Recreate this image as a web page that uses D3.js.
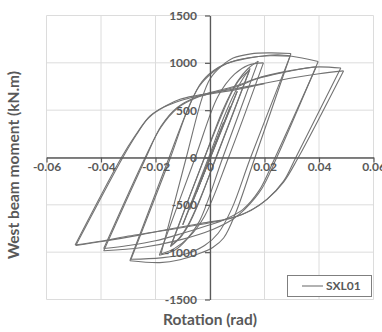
<!DOCTYPE html>
<html>
<head>
<meta charset="utf-8">
<script src="https://cdn.jsdelivr.net/npm/d3@7"></script>
<style>
  html, body { margin: 0; padding: 0; background: #fff; }
  svg { display: block; }
  text { font-family: Lato, "Open Sans", sans-serif; }
</style>
</head>
<body>
<svg id="chart" width="382" height="332"></svg>
<script>
// ---- data (rotation rad, moment kN.m) ----
const xTicks = [-0.06, -0.04, -0.02, 0, 0.02, 0.04, 0.06];
const yTicks = [-1500, -1000, -500, 0, 500, 1000, 1500];
const seriesName = "SXL01";

const smallCycles = [[0,0],[0.004,290],[-0.004,-290],[0.005,370],[-0.005,-370],[0.0075,540],[-0.0075,-550],[0.01,700],[-0.01,-710]];
const cycles015 = [[-0.0005,0],[0.005,420],[0.009,680],[0.012,830],[0.0147,940],
  [0.0022,0],[-0.004,-470],[-0.008,-720],[-0.011,-850],[-0.0145,-940],
  [-0.002,0],[0.004,430],[0.008,690],[0.011,830],[0.0145,920],
  [0.0023,0],[-0.004,-460],[-0.008,-710],[-0.011,-840],[-0.0142,-925]];
const cycles02 = [[-0.002,0],[0.005,520],[0.01,800],[0.014,940],[0.0177,1018],
  [0.0047,0],[-0.004,-680],[-0.009,-880],[-0.013,-980],[-0.0186,-1033],
  [-0.0054,0],[0.003,650],[0.009,880],[0.014,975],[0.0196,1000],
  [0.0068,0],[-0.002,-620],[-0.008,-850],[-0.013,-960],[-0.018,-1020]];
const cycles03 = [[-0.0087,0],[-0.003,620],[0,830],[0.004,960],[0.0085,1050],[0.015,1095],[0.022,1105],[0.0297,1099],
  [0.0165,0],[0.0095,-580],[0.005,-850],[0.001,-950],[-0.0037,-1012],[-0.011,-1080],[-0.0184,-1110],[-0.0294,-1090],
  [-0.015,0],[-0.009,450],[-0.004,750],[0.001,900],[0.006,990],[0.014,1050],[0.022,1075],[0.0294,1071],
  [0.0149,0],[0.008,-540],[0.003,-800],[-0.002,-930],[-0.009,-1020],[-0.018,-1060],[-0.029,-1075]];
const cycles04 = [[-0.0145,0],[-0.008,520],[-0.003,800],[0.003,950],[0.01,1030],[0.02,1075],[0.025,1085],[0.03,1070],[0.0397,1015],
  [0.0245,0],[0.019,-330],[0.013,-540],[0.0085,-650],[0.001,-760],[-0.011,-870],[-0.025,-950],[-0.039,-985],
  [-0.0235,0],[-0.018,330],[-0.012,530],[-0.005,640],[0.002,700],[0.01,760],[0.017,835],[0.028,910],[0.039,958],
  [0.0239,0],[0.018,-350],[0.012,-550],[0.005,-660],[0,-710],[-0.01,-800],[-0.02,-880],[-0.03,-930],[-0.039,-962]];
const cycles05 = [[-0.0238,0],[-0.018,320],[-0.012,520],[-0.005,630],[0.002,690],[0.01,750],[0.017,830],[0.028,905],[0.038,955],[0.048,945],
  [0.0315,0],[0.027,-250],[0.021,-440],[0.015,-560],[0.008,-640],[0,-680],[-0.0147,-755],[-0.026,-820],[-0.039,-885],[-0.0492,-928],
  [-0.032,0],[-0.027,240],[-0.022,440],[-0.016,550],[-0.011,615],[-0.005,655],[0,680],[0.01,730],[0.021,790],[0.03,840],[0.04,885],[0.049,915],
  [0.0324,0],[0.027,-260],[0.021,-440],[0.016,-540],[0.011,-610],[0.005,-660],[0,-690],[-0.01,-740],[-0.021,-790],[-0.03,-830],[-0.039,-880],[-0.0495,-925],
  [-0.0325,0],[-0.0275,230],[-0.0225,420],[-0.017,530],[-0.011,600],[-0.005,645],[0,670],[0.01,720],[0.02,780]];

const path = [].concat(smallCycles, cycles015, cycles02, cycles03, cycles04, cycles05);

// split the loading path into half-cycles at each reversal (peak), so peaks stay sharp
const halfCycles = [];
let seg = [path[0]];
for (let i = 1; i < path.length; i++) {
  seg.push(path[i]);
  if (i < path.length - 1) {
    const d1 = path[i][0] - path[i - 1][0];
    const d2 = path[i + 1][0] - path[i][0];
    if (d1 * d2 < 0) { halfCycles.push(seg); seg = [path[i]]; }
  }
}
halfCycles.push(seg);

// ---- layout ----
const svg = d3.select("#chart");
const x = d3.scaleLinear().domain([-0.06, 0.06]).range([46.5, 373.5]);
const y = d3.scaleLinear().domain([-1500, 1500]).range([299.5, 15.5]);
const textColor = "#595959";

// gridlines
const grid = svg.append("g");
grid.selectAll("line.v").data(xTicks).join("line")
  .attr("x1", d => x(d)).attr("x2", d => x(d))
  .attr("y1", y(1500)).attr("y2", y(-1500))
  .attr("stroke", "#dcdcdc").attr("stroke-width", 1);
grid.selectAll("line.h").data(yTicks).join("line")
  .attr("x1", x(-0.06)).attr("x2", x(0.06))
  .attr("y1", d => y(d)).attr("y2", d => y(d))
  .attr("stroke", "#dcdcdc").attr("stroke-width", 1);

// data line (one continuous series drawn as smoothed half-cycles)
const lineGen = d3.line().curve(d3.curveCatmullRom.alpha(0.5)).x(d => x(d[0])).y(d => y(d[1]));
svg.append("g").selectAll("path").data(halfCycles).join("path")
  .attr("fill", "none")
  .attr("stroke", "#737373")
  .attr("stroke-width", 1.1)
  .attr("stroke-linejoin", "round")
  .attr("d", lineGen);

// x axis
const xAxis = svg.append("g")
  .attr("transform", `translate(0,${y(0)})`)
  .call(d3.axisBottom(x).tickValues(xTicks).tickSize(5).tickSizeOuter(0)
    .tickFormat(d => d === 0 ? "0" : d3.format(".2f")(d).replace("−", "-")));
xAxis.select(".domain").attr("stroke", "#5a5a5a").attr("stroke-width", 1.3);
xAxis.selectAll(".tick line").attr("stroke", "#5a5a5a").attr("stroke-width", 1.2);
xAxis.selectAll(".tick text").attr("y", 5).attr("dy", "0.71em")
  .attr("fill", textColor).attr("font-size", 12).attr("font-weight", "bold")
  .attr("font-family", "Lato, sans-serif");

// y axis
const yAxis = svg.append("g")
  .attr("transform", `translate(${x(0)},0)`)
  .call(d3.axisLeft(y).tickValues(yTicks).tickSize(5).tickSizeOuter(0)
    .tickFormat(d => String(d)));
yAxis.select(".domain").attr("stroke", "#5a5a5a").attr("stroke-width", 1.3);
yAxis.selectAll(".tick line").attr("stroke", "#5a5a5a").attr("stroke-width", 1.2);
yAxis.selectAll(".tick text").attr("x", -13)
  .attr("fill", textColor).attr("font-size", 12).attr("font-weight", "bold")
  .attr("font-family", "Lato, sans-serif");

// axis titles
svg.append("text")
  .attr("x", 210).attr("y", 325)
  .attr("text-anchor", "middle")
  .attr("fill", textColor).attr("font-size", 15.5).attr("font-weight", "bold")
  .text("Rotation (rad)");
svg.append("text")
  .attr("transform", "translate(19,165) rotate(-90)")
  .attr("text-anchor", "middle")
  .attr("fill", textColor).attr("font-size", 15.5).attr("font-weight", "bold")
  .text("West beam moment (kN.m)");

// legend
const lg = svg.append("g");
lg.append("rect").attr("x", 287.5).attr("y", 275.5).attr("width", 84).attr("height", 21)
  .attr("fill", "#fff").attr("stroke", "#7f7f7f").attr("stroke-width", 1);
lg.append("line").attr("x1", 302).attr("x2", 323).attr("y1", 286).attr("y2", 286)
  .attr("stroke", "#737373").attr("stroke-width", 1.1);
lg.append("text").attr("x", 326).attr("y", 286).attr("dy", "0.35em")
  .attr("fill", textColor).attr("font-size", 12).attr("font-weight", "bold")
  .text(seriesName);
</script>
</body>
</html>
